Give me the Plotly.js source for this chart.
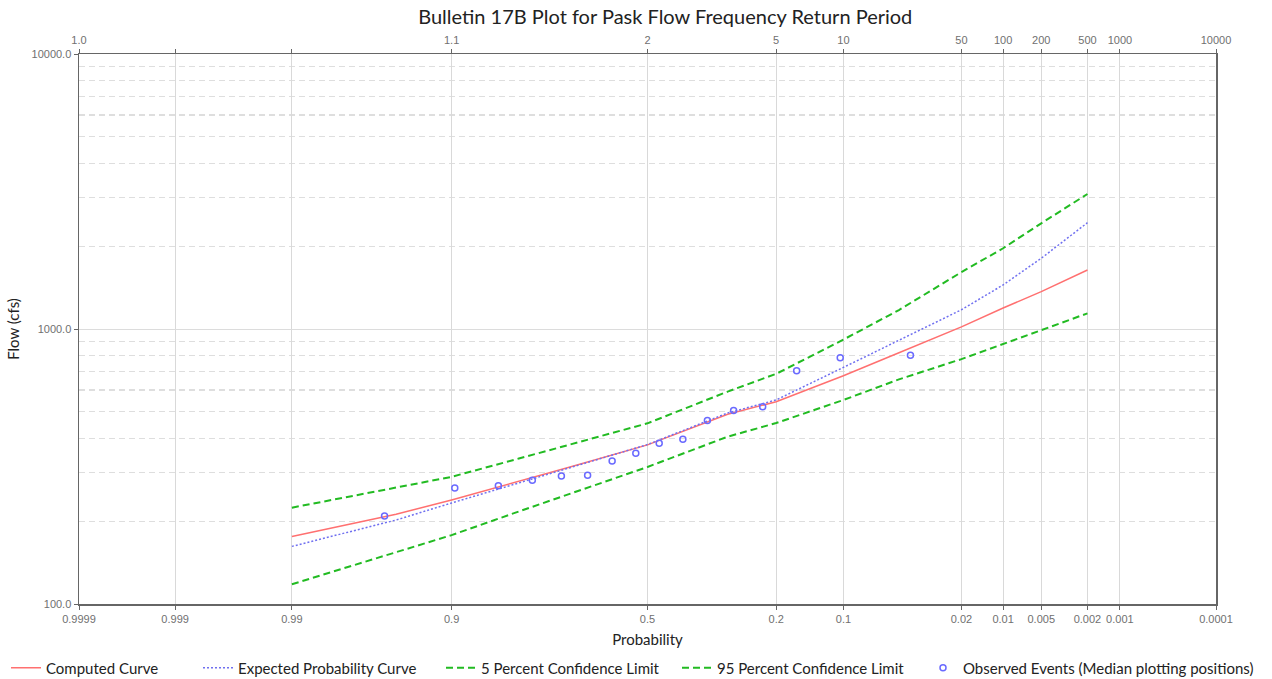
<!DOCTYPE html>
<html>
<head>
<meta charset="utf-8">
<script src="https://cdn.plot.ly/plotly-3.0.1.min.js"></script>
<style>
html,body{margin:0;padding:0;background:#fff;}
#chart{width:1272px;height:679px;}
</style>
</head>
<body>
<div id="chart"></div>
<script>
// ---- data ----
var curveProb = [0.99, 0.95, 0.9, 0.8, 0.7, 0.5, 0.3, 0.2, 0.1, 0.05, 0.02, 0.01, 0.005, 0.002];
var computedCurve = [176, 212, 239, 279, 313, 379, 490, 544, 676, 820, 1018, 1192, 1368, 1639];
var expectedCurve = [162, 202, 233, 275, 310, 380, 495, 552, 725, 912, 1175, 1446, 1808, 2435];
var conf5 = [224, 264, 290, 338, 378, 454, 592, 687, 915, 1172, 1610, 1966, 2423, 3097];
var conf95 = [118, 154, 178, 217, 250, 315, 406, 455, 552, 656, 777, 881, 992, 1140];

var obsProb = [0.0427, 0.1037, 0.1646, 0.2256, 0.2866, 0.3476, 0.4085, 0.4695, 0.5305, 0.5915, 0.6524, 0.7134, 0.7744, 0.8354, 0.8963, 0.9573];
var obsFlow = [802, 786, 705, 522, 505, 465, 397, 384, 353, 331, 294, 292, 282, 269, 264, 209];

var probTicks = [0.9999, 0.999, 0.99, 0.9, 0.5, 0.2, 0.1, 0.02, 0.01, 0.005, 0.002, 0.001, 0.0001];
var probLabels = ["0.9999", "0.999", "0.99", "0.9", "0.5", "0.2", "0.1", "0.02", "0.01", "0.005", "0.002", "0.001", "0.0001"];
var returnLabels = ["1.0", "", "", "1.1", "2", "5", "10", "50", "100", "200", "500", "1000", "10000"];

var flowTicks = [100, 1000, 10000];
var flowLabels = ["100.0", "1000.0", "10000.0"];
var flowMinor = [200, 300, 400, 500, 600, 700, 800, 900, 2000, 3000, 4000, 5000, 6000, 7000, 8000, 9000];

var seriesNames = ["Computed Curve", "Expected Probability Curve", "5 Percent Confidence Limit",
                   "95 Percent Confidence Limit", "Observed Events (Median plotting positions)"];

// ---- normal probability scale (inverse normal CDF, Acklam) ----
function qnorm(p) {
  var a = [-3.969683028665376e+01, 2.209460984245205e+02, -2.759285104469687e+02, 1.383577518672690e+02, -3.066479806614716e+01, 2.506628277459239e+00];
  var b = [-5.447609879822406e+01, 1.615858368580409e+02, -1.556989798598866e+02, 6.680131188771972e+01, -1.328068155288572e+01];
  var c = [-7.784894002430293e-03, -3.223964580411365e-01, -2.400758277161838e+00, -2.549671010115694e+00, 4.374664141464968e+00, 2.938163982698783e+00];
  var d = [7.784695709041462e-03, 3.224671290700398e-01, 2.445134137142996e+00, 3.754408661907416e+00];
  var plow = 0.02425, phigh = 1 - plow, q, r;
  if (p < plow) {
    q = Math.sqrt(-2 * Math.log(p));
    return (((((c[0]*q+c[1])*q+c[2])*q+c[3])*q+c[4])*q+c[5]) / ((((d[0]*q+d[1])*q+d[2])*q+d[3])*q+1);
  } else if (p <= phigh) {
    q = p - 0.5; r = q*q;
    return (((((a[0]*r+a[1])*r+a[2])*r+a[3])*r+a[4])*r+a[5])*q / (((((b[0]*r+b[1])*r+b[2])*r+b[3])*r+b[4])*r+1);
  } else {
    q = Math.sqrt(-2 * Math.log(1 - p));
    return -(((((c[0]*q+c[1])*q+c[2])*q+c[3])*q+c[4])*q+c[5]) / ((((d[0]*q+d[1])*q+d[2])*q+d[3])*q+1);
  }
}
// exceedance probability -> axis coordinate
function px(p) { return qnorm(1 - p); }

var curveX = curveProb.map(px);
var obsX = obsProb.map(px);
var tickX = probTicks.map(px);
var xr = [px(0.9999), px(0.0001)];

var sans = "Lato, 'Open Sans', sans-serif";
var legendFont = {family: sans, size: 15, color: "#222"};

var traces = [
  {x: curveX, y: computedCurve, type: "scatter", mode: "lines", name: seriesNames[0], legend: "legend",
   line: {color: "#ff7070", width: 1.5}},
  {x: curveX, y: expectedCurve, type: "scatter", mode: "lines", name: seriesNames[1], legend: "legend2",
   line: {color: "#7070f0", width: 1.5, dash: "2px,2px"}},
  {x: curveX, y: conf5, type: "scatter", mode: "lines", name: seriesNames[2], legend: "legend3",
   line: {color: "#22bb22", width: 2, dash: "7px,4px"}},
  {x: curveX, y: conf95, type: "scatter", mode: "lines", name: seriesNames[3], legend: "legend4",
   line: {color: "#22bb22", width: 2, dash: "7px,4px"}},
  {x: obsX, y: obsFlow, type: "scatter", mode: "markers", name: seriesNames[4], legend: "legend5",
   marker: {symbol: "circle-open", color: "#6a6aff", size: 6, line: {width: 1.5, color: "#6a6aff"}}},
  {x: [xr[0], xr[1]], y: [1000, 1000], xaxis: "x2", type: "scatter", mode: "lines",
   line: {width: 0}, showlegend: false, hoverinfo: "skip"}
];

var tickFont = {family: "'Liberation Sans', Arial, sans-serif", size: 11, color: "#707070"};

function leg(textPx) {
  return {orientation: "h", xref: "container", yref: "container",
          x: (textPx - 40) / 1272, xanchor: "left", y: 1 - 668 / 679, yanchor: "middle",
          font: legendFont, bgcolor: "rgba(0,0,0,0)", itemwidth: 30};
}

var layout = {
  width: 1272, height: 679,
  paper_bgcolor: "#fff", plot_bgcolor: "#fff",
  margin: {l: 79, r: 56, t: 54, b: 75},
  title: {text: "Bulletin 17B Plot for Pask Flow Frequency Return Period",
          font: {family: sans, size: 20, color: "#222"},
          x: 0.523, xanchor: "center", y: 0.975, yanchor: "middle"},
  xaxis: {
    range: xr, type: "linear", tickmode: "array", tickvals: tickX, ticktext: probLabels,
    showgrid: true, gridcolor: "#d9d9d9", gridwidth: 1, zeroline: false,
    showline: true, linecolor: "#666", linewidth: 1.5,
    ticks: "outside", ticklen: 4, tickcolor: "#666", tickfont: tickFont,
    title: {text: "Probability", font: {family: sans, size: 15, color: "#222"}, standoff: 11}
  },
  xaxis2: {
    range: xr, type: "linear", overlaying: "x", side: "top", anchor: "y",
    tickmode: "array", tickvals: tickX, ticktext: returnLabels,
    showgrid: false, zeroline: false,
    showline: true, linecolor: "#666", linewidth: 1.5,
    ticks: "outside", ticklen: 4, tickcolor: "#666", tickfont: tickFont
  },
  yaxis: {
    type: "log", range: [2, 4], tickmode: "array", tickvals: flowTicks, ticktext: flowLabels,
    showgrid: true, gridcolor: "#dcdcdc", gridwidth: 1, zeroline: false,
    showline: true, linecolor: "#666", linewidth: 1.5, mirror: true,
    ticks: "outside", ticklen: 4, tickcolor: "#666", tickfont: tickFont,
    minor: {tickmode: "array", tickvals: flowMinor, showgrid: true, gridcolor: "#dedede",
            griddash: "6px,4px", gridwidth: 1.2, ticks: ""},
    title: {text: "Flow (cfs)", font: {family: sans, size: 15, color: "#222"}, standoff: 8}
  },
  showlegend: true,
  legend: leg(46),
  legend2: leg(238),
  legend3: leg(481),
  legend4: leg(717),
  legend5: leg(963)
};

Plotly.newPlot("chart", traces, layout, {displayModeBar: false, staticPlot: true});
</script>
</body>
</html>
